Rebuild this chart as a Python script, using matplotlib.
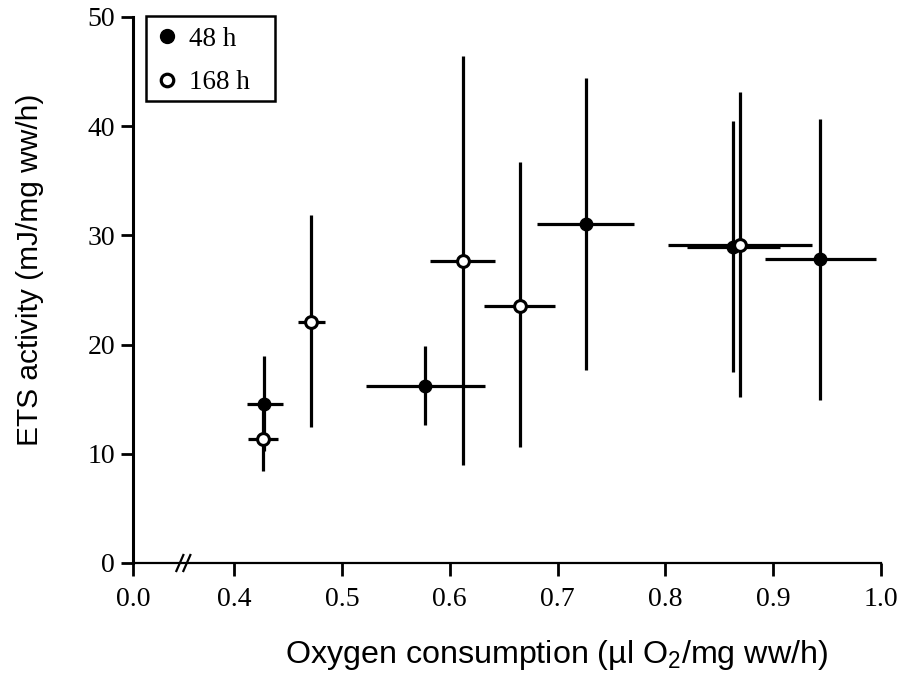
import matplotlib
matplotlib.use("Agg")
import matplotlib.pyplot as plt
import matplotlib.transforms as mtrans
from matplotlib.lines import Line2D
from matplotlib.patches import Rectangle

# ---- data: 48 h (filled circles) ----
x48 = [0.428, 0.577, 0.726, 0.863, 0.943]
y48 = [14.6, 16.2, 31.0, 28.9, 27.8]
x48_lo = [0.412, 0.522, 0.681, 0.820, 0.892]
x48_hi = [0.445, 0.633, 0.771, 0.906, 0.995]
y48_lo = [10.3, 12.6, 17.7, 17.5, 14.9]
y48_hi = [19.0, 19.9, 44.4, 40.5, 40.7]

# ---- data: 168 h (open circles) ----
x168 = [0.427, 0.471, 0.612, 0.665, 0.869]
y168 = [11.4, 22.1, 27.7, 23.5, 29.1]
x168_lo = [0.413, 0.459, 0.582, 0.632, 0.802]
x168_hi = [0.441, 0.484, 0.642, 0.698, 0.936]
y168_lo = [8.4, 12.5, 9.0, 10.6, 15.2]
y168_hi = [14.3, 31.9, 46.4, 36.7, 43.1]

series_labels = ["48 h", "168 h"]

# axis (broken x axis: "0.0" sits just left of the break)
x_zero_pos = 0.3063
x_tick_vals = [0.4, 0.5, 0.6, 0.7, 0.8, 0.9, 1.0]
x_tick_labels = ["0.0", "0.4", "0.5", "0.6", "0.7", "0.8", "0.9", "1.0"]
y_ticks = [0, 10, 20, 30, 40, 50]
x_break = 0.353

serif = "Liberation Serif"
sans = "Liberation Sans"
plt.rcParams["mathtext.fontset"] = "custom"
plt.rcParams["mathtext.rm"] = sans

W, H = 901, 675
fig = plt.figure(figsize=(W / 100, H / 100), dpi=100)
ax = fig.add_axes([133 / W, 1 - 563 / H, (881 - 133) / W, (563 - 17) / H])

def errs(v, lo, hi):
    return [[a - b for a, b in zip(v, lo)], [c - a for a, c in zip(v, hi)]]

lw = 2.3
ax.errorbar(x48, y48, xerr=errs(x48, x48_lo, x48_hi), yerr=errs(y48, y48_lo, y48_hi),
            fmt="o", color="black", ecolor="black", elinewidth=lw, capsize=0,
            markersize=9, markerfacecolor="black", markeredgecolor="black", zorder=3)
ax.errorbar(x168, y168, xerr=errs(x168, x168_lo, x168_hi), yerr=errs(y168, y168_lo, y168_hi),
            fmt="o", color="black", ecolor="black", elinewidth=lw, capsize=0,
            markersize=8.5, markerfacecolor="white", markeredgecolor="black",
            markeredgewidth=2.2, zorder=4)

ax.set_xlim(x_zero_pos, 1.0)
ax.set_ylim(0, 50)
ax.set_xticks([x_zero_pos] + x_tick_vals)
ax.set_xticklabels(x_tick_labels, fontfamily=serif, fontsize=20)
ax.set_yticks(y_ticks)
ax.set_yticklabels([str(t) for t in y_ticks], fontfamily=serif, fontsize=20)

for s in ["top", "right"]:
    ax.spines[s].set_visible(False)
ax.spines["left"].set_linewidth(2.2)
ax.spines["bottom"].set_linewidth(1.6)
ax.tick_params(axis="x", direction="out", length=9, width=2.0, pad=8)
ax.tick_params(axis="y", direction="out", length=9, width=2.0, pad=4)

# axis break marks
w_px = 881 - 133
h_px = 563 - 17
trans = mtrans.blended_transform_factory(ax.transData, ax.transAxes)
for off in (-3.5, 3.5):
    dx0 = (off - 3.5) / w_px * (1.0 - x_zero_pos)
    dx1 = (off + 3.5) / w_px * (1.0 - x_zero_pos)
    ax.plot([x_break + dx0, x_break + dx1], [-8 / h_px, 8 / h_px], color="black",
            lw=1.6, transform=trans, clip_on=False, zorder=5)

fig.text(557 / W, 1 - 655 / H, r"Oxygen consumption (µl O$\mathregular{_2}$/mg ww/h)",
         fontfamily=sans, fontsize=23.2, ha="center", va="center")
fig.text(30 / W, 1 - 270 / H, "ETS activity (mJ/mg ww/h)", fontfamily=sans, fontsize=21.5,
         ha="center", va="center", rotation=90)

handles = [
    Line2D([], [], linestyle="none", marker="o", markersize=10, markerfacecolor="black",
           markeredgecolor="black"),
    Line2D([], [], linestyle="none", marker="o", markersize=9, markerfacecolor="white",
           markeredgecolor="black", markeredgewidth=2.3),
]
leg = fig.legend(handles, series_labels, loc="upper left",
                 bbox_to_anchor=(146 / W, 1 - 16 / H), frameon=False,
                 prop={"family": serif, "size": 19.5}, handletextpad=0.45,
                 handlelength=0.75, borderpad=0.4, labelspacing=0.68, borderaxespad=0)
fig.patches.append(Rectangle((146 / W, 1 - 101 / H), (275 - 146) / W, (101 - 16) / H,
                             transform=fig.transFigure, fill=False, edgecolor="black",
                             linewidth=1.8))

fig.savefig("out.png", dpi=100)
